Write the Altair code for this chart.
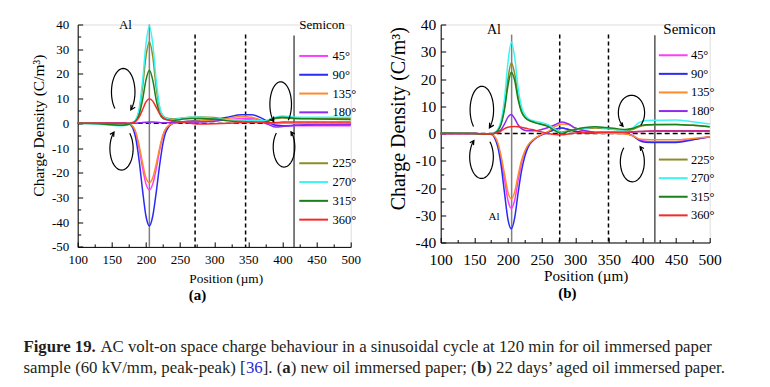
import altair as alt
import pandas as pd
import numpy as np

FONT = "Liberation Serif"

# ---------------- data ----------------
ANGLES_1 = ["45°", "90°", "135°", "180°"]
ANGLES_2 = ["225°", "270°", "315°", "360°"]
COLORS_1 = ["#ff3cff", "#2a2af5", "#ff8a2a", "#8f2bf0"]
COLORS_2 = ["#8c8c2a", "#3cf5f5", "#1a801a", "#f52a2a"]

# panel (a): new oil immersed paper
X_A = [100, 130, 150, 165, 175, 180, 185, 190, 195, 200, 205, 210, 215, 220, 225, 230,
       240, 250, 265, 280, 300, 320, 340, 355, 370, 380, 390, 400, 420, 450, 500]
A_45 = [0, 0, 0, 0, -0.3, -1, -4, -10, -18, -24.5, -27, -24.5, -18.5, -11, -5, -2,
        0, 0.3, 0.5, 0.8, 1, 1.5, 2, 2, 1, 0, -0.8, -1, -1, -1, -1]
A_90 = [0, 0, 0, 0, -0.3, -1.5, -6, -15, -27, -37.5, -41.5, -37.5, -28, -17, -8, -3,
        0, 0.5, 1, 1.2, 1.5, 2.5, 3.5, 3.5, 2, 0.5, -0.8, -1, -0.8, -0.5, -0.5]
A_135 = [0, 0, 0, 0, -0.3, -1, -3.5, -9, -16, -22, -24, -22, -16.5, -10, -4.5, -1.8,
         0, 0.5, 0.8, 1, 1.2, 2, 2.8, 2.5, 1.2, 0.3, 0, 0, 0, 0, 0]
A_180 = [0, 0, 0, 0, 0, 0, 0, 0.2, 0.3, 0.4, 0.5, 0.5, 0.4, 0.3, 0.2, 0.2,
         0.3, 0.5, 0.5, 0.5, 0.8, 1.5, 1.5, 1.3, 0.5, -0.5, -1.5, -1.3, -0.8, -0.6, -0.5]
A_225 = [0, 0, -0.5, -0.7, -0.3, 0.2, 1.2, 5, 14.5, 27, 33, 27, 14.5, 6, 3, 2.2,
         1.8, 2, 2.5, 2.6, 2.4, 1.5, 1, 0.8, 0.5, 1, 2, 2.2, 2, 2, 2]
A_270 = [0, -0.3, -0.8, -1, -0.5, 0.3, 1.5, 6, 17, 32, 39.5, 32, 17.5, 7, 3, 2,
         1.5, 2, 2.5, 2.5, 2, 1.5, 1.5, 1, 1, 1.5, 2.5, 3, 2.5, 2.5, 2.5]
A_315 = [0, -0.2, -0.6, -0.8, -0.4, 0.2, 1, 3.5, 9.5, 17.5, 21.5, 17.5, 9.5, 4, 2, 1.5,
         1.2, 1.5, 2, 2, 1.8, 1, 0.5, 0.3, 0.3, 1, 2.2, 2.5, 2, 1.8, 1.5]
A_360 = [0, 0, 0, 0, 0, 0.1, 0.8, 2.5, 5.5, 8.7, 10, 9, 6.5, 4, 2.3, 1.5,
         0.8, 0.5, 0, -0.3, -0.2, 0, 0.3, 0.5, 0.3, 0.2, 0.3, 0.5, 0.5, 0.5, 0.5]

# panel (b): 22 days' aged oil immersed paper
X_B = [100, 130, 150, 165, 175, 180, 185, 190, 195, 200, 205, 210, 215, 220, 225, 230,
       240, 250, 260, 270, 280, 290, 300, 315, 330, 345, 360, 375, 385, 395, 405, 420,
       450, 475, 500]
B_45 = [0, 0, 0, -0.2, -0.3, -1.2, -4, -9.5, -17, -24.5, -27.5, -24.5, -17.5, -11, -7, -4.5,
        -2, -0.5, 0.5, 1.5, 2, 1.5, 0.8, 0.3, 0.2, 0.2, 0.2, 0, -0.7, -2.2, -2.8, -3,
        -3, -2.2, -1.3]
B_90 = [0, 0, 0, -0.2, -0.3, -1.5, -5, -12, -22, -31.5, -35, -31, -22, -14, -8.5, -5,
        -2, -0.5, 0.5, 1.5, 2, 1.5, 0.8, 0.3, 0.2, 0.2, 0.2, 0, -0.8, -2.5, -3.2, -3.3,
        -3.3, -2.3, -1.2]
B_135 = [0, 0, 0, -0.2, -0.3, -1, -3.5, -8.5, -15, -21.5, -24, -21.5, -15.5, -10, -6.5, -4.2,
         -1.8, -0.3, 0.8, 2.5, 3.5, 3.3, 2, 0.8, 0.3, 0.1, 0, -0.2, -0.8, -2, -2.2, -2.3,
         -2.3, -1.8, -1.2]
B_180 = [0, 0, 0, -0.2, -0.2, 0.1, 0.5, 1.5, 3.5, 6, 7, 5.5, 3.2, 1.8, 1.2, 1,
         1, 1.5, 2.2, 3.2, 4.2, 3.5, 2, 1, 0.5, 0.5, 0.5, 0.5, 0.5, 0.7, 0.8, 1,
         1, 1, 1]
B_225 = [0.2, 0.1, 0, -0.3, -0.3, 0.2, 1.2, 4, 10, 20, 26, 22, 14, 8.5, 6, 5,
         4, 3.5, 3, 1.5, 0.5, 1, 1.5, 1.8, 2, 1.8, 1.5, 1.2, 1.5, 2.5, 3, 3.2,
         3.3, 3, 2.5]
B_270 = [0.2, 0.2, 0, -0.3, -0.3, 0.3, 1.5, 5, 13, 26, 33.5, 28, 17, 10, 7, 5.5,
         4.5, 4, 3.2, 1.5, 0.3, 0.8, 1.5, 2, 2.4, 2, 1.5, 1.3, 2, 4, 4.8, 4.9,
         5, 4.3, 3.5]
B_315 = [0.2, 0.1, 0, -0.3, -0.3, 0.2, 1, 3.5, 9, 17.5, 22.5, 19.5, 12.5, 8, 6, 5,
         4, 3.3, 2.5, 1, 0, 0.8, 1.5, 2.2, 2.5, 2.2, 1.8, 1.5, 1.8, 2.8, 3.2, 3.3,
         3.3, 3, 2.5]
B_360 = [0, 0, 0, -0.2, -0.2, 0, 0.3, 1, 1.8, 2.3, 2.5, 2.6, 2.5, 2.3, 2, 1.7,
         1.2, 0.6, 0, -0.4, -0.5, -0.2, 0.2, 0.3, 0.4, 0.5, 0.5, 0.5, 0.6, 0.7, 0.8, 0.8,
         0.8, 0.8, 0.8]

# reference lines (electrode / layer boundaries)
AL_A = 205
SEMICON_A = 417
DASHED_A = [272, 346]
AL_B = 205.5
SEMICON_B = 418.5
DASHED_B = [277, 349.5]

CAPTION_LINE_1 = [("Figure 19.", "b"),
                  (" AC volt-on space charge behaviour in a sinusoidal cycle at 120 min for oil immersed paper", "n")]
CAPTION_LINE_2 = [("sample (60 kV/mm, peak-peak) [", "n"), ("36", "c"), ("]. (", "n"), ("a", "b"),
                  (") new oil immersed paper; (", "n"), ("b", "b"),
                  (") 22 days’ aged oil immersed paper.", "n")]

# approximate Times / Liberation Serif advance widths (per 1000 em) for laying out caption runs
_W = {' ': 250, '(': 333, ')': 333, '[': 333, ']': 333, '.': 250, ',': 250, ';': 278, '/': 278,
      '-': 333, '’': 333, 'A': 722, 'C': 667, 'F': 556, 'V': 722,
      'a': 444, 'b': 500, 'c': 444, 'd': 500, 'e': 444, 'f': 333, 'g': 500, 'h': 500, 'i': 278,
      'k': 500, 'l': 278, 'm': 778, 'n': 500, 'o': 500, 'p': 500, 'r': 333, 's': 389, 't': 278,
      'u': 500, 'v': 500, 'w': 722, 'y': 500}
_WB = {'F': 611, 'a': 500, 'b': 556, 'u': 556, 'r': 444, 'g': 500, 'i': 278, 'e': 444}
CAP_FS = 16.8


def text_width(s, bold):
    tot = 0
    for ch in s:
        if ch.isdigit():
            tot += 500
        elif bold and ch in _WB:
            tot += _WB[ch]
        else:
            tot += _W.get(ch, 500)
    return tot / 1000 * CAP_FS


def layout_line(runs, x0, y):
    rows = []
    x = x0
    for txt, st in runs:
        lead = len(txt) - len(txt.lstrip(" "))
        rows.append({"t": txt.strip(" "), "px": x + text_width(" " * lead, False), "py": y, "s": st})
        x += text_width(txt, st == "b")
    return rows


def long_df(xs, series):
    rows = []
    for ang, vals in series.items():
        for x, v in zip(xs, vals):
            rows.append({"x": x, "v": v, "angle": ang})
    return pd.DataFrame(rows)


def arrow_path(rx, kind, t0=135.0, t1=410.0, n=48, head=0.22):
    ts = np.radians(np.linspace(t0, t1, n))
    xs = rx * np.cos(ts)
    ys = np.sin(ts)
    tip = np.array([xs[-1], ys[-1]])
    d = np.array([-rx * np.sin(ts[-1]), np.cos(ts[-1])])
    d = d / np.linalg.norm(d)
    heads = []
    for a in (np.radians(28), -np.radians(28)):
        c, s = np.cos(a), np.sin(a)
        back = -d
        r = np.array([c * back[0] - s * back[1], s * back[0] + c * back[1]])
        heads.append(tip + head * r)
    fx, fy = 1, 1
    if kind == "LL":
        fx, fy = -1, -1
    elif kind == "RU":
        fx, fy = -1, 1
    elif kind == "RL":
        fx, fy = 1, -1
    pts = " L".join(f"{fx*x:.3f},{fy*y:.3f}" for x, y in zip(xs, ys))
    h1, h2 = heads
    return (f"M{pts} M{fx*h1[0]:.3f},{fy*h1[1]:.3f} L{fx*tip[0]:.3f},{fy*tip[1]:.3f} "
            f"L{fx*h2[0]:.3f},{fy*h2[1]:.3f}")


def panel(p):
    xs = alt.Scale(domain=[100, 500], nice=False, zero=False)
    ys = alt.Scale(domain=p["ydom"], nice=False, zero=False)
    yvals = list(range(p["ydom"][0], p["ydom"][1] + 1, 10))
    yminor = list(range(p["ydom"][0] + 5, p["ydom"][1], 10))
    xvals = list(range(100, 501, 50))
    xminor = list(range(125, 500, 50))

    x_main = alt.Axis(orient="bottom", values=xvals, ticks=False, labelPadding=p["xlabpad"],
                      labelFlush=False,
                      labelFont=FONT, labelFontSize=p["tickfs"], labelColor="black",
                      labelExpr="datum.value + ''",
                      domainColor="black", domainWidth=1, grid=False,
                      title="Position (µm)", titleFont=FONT, titleFontSize=p["xtitlefs"],
                      titleFontWeight="normal", titleColor="black",
                      titleX=p["xtitlex"], titleY=p["xtitley"], titleBaseline="middle",
                      titleAlign="center")
    y_main = alt.Axis(orient="left", values=yvals, ticks=False, labelPadding=p["ylabpad"],
                      labelFont=FONT, labelFontSize=p["tickfs"], labelColor="black",
                      labelExpr="datum.value + ''",
                      domainColor="black", domainWidth=1, grid=False,
                      title="Charge Density (C/m³)", titleFont=FONT, titleFontSize=p["ytitlefs"],
                      titleFontWeight="normal", titleColor="black",
                      titleX=p["ytitlex"], titleY=p["ytitley"], titleBaseline="middle",
                      titleAlign="center", titleAngle=270)

    def tick_axis(orient, vals, size):
        return alt.Axis(orient=orient, values=vals, offset=-size, tickSize=size, ticks=True,
                        tickColor="black", tickWidth=1, domain=False, labels=False,
                        title=None, grid=False)

    df = long_df(p["x"], p["series"])
    g1 = df[df["angle"].isin(ANGLES_1)]
    g2 = df[df["angle"].isin(ANGLES_2)]

    def legend(ly):
        return alt.Legend(title=None, orient="none", legendX=p["legx"], legendY=ly,
                          symbolType="M -3.2 0 L 3.2 0", symbolSize=81, symbolStrokeWidth=2,
                          labelFont=FONT, labelFontSize=12.5, labelColor="black",
                          labelOffset=p["laboff"], rowPadding=p["rowpad"], padding=0,
                          direction="vertical", labelLimit=0)

    lines1 = alt.Chart(g1).mark_line(strokeWidth=1.5, interpolate="monotone").encode(
        x=alt.X("x:Q", scale=xs, axis=x_main),
        y=alt.Y("v:Q", scale=ys, axis=y_main),
        color=alt.Color("angle:N", scale=alt.Scale(domain=ANGLES_1, range=COLORS_1),
                        sort=ANGLES_1, legend=legend(p["leg1y"])),
        detail="angle:N",
    )
    lines2 = alt.Chart(g2).mark_line(strokeWidth=1.5, interpolate="monotone").encode(
        x=alt.X("x:Q", scale=xs, axis=None),
        y=alt.Y("v:Q", scale=ys, axis=None),
        color=alt.Color("angle:N", scale=alt.Scale(domain=ANGLES_2, range=COLORS_2),
                        sort=ANGLES_2, legend=legend(p["leg2y"])),
        detail="angle:N",
    )

    zero = alt.Chart(pd.DataFrame({"z": [0]})).mark_rule(
        color="black", strokeWidth=1.4, strokeDash=[5, 3]).encode(
        y=alt.Y("z:Q", scale=ys, axis=None))

    al = alt.Chart(pd.DataFrame({"x": [p["al"]], "top": [p["altop"]], "bot": [p["ydom"][0]]})).mark_rule(
        color="#808080", strokeWidth=1.5).encode(
        x=alt.X("x:Q", scale=xs, axis=tick_axis("bottom", xvals, 5)),
        y=alt.Y("top:Q", scale=ys, axis=tick_axis("left", yvals, 5)),
        y2="bot:Q")
    semi = alt.Chart(pd.DataFrame({"x": [p["semi"]], "top": [p["semitop"]], "bot": [p["ydom"][0]]})).mark_rule(
        color="#3a3a3a", strokeWidth=1.3).encode(
        x=alt.X("x:Q", scale=xs, axis=None),
        y=alt.Y("top:Q", scale=ys, axis=None),
        y2="bot:Q")
    dashed = alt.Chart(pd.DataFrame({"x": p["dashed"], "top": [p["dashtop"]] * 2,
                                     "bot": [p["ydom"][0]] * 2})).mark_rule(
        color="black", strokeWidth=1.5, strokeDash=[4, 3]).encode(
        x=alt.X("x:Q", scale=xs, axis=tick_axis("bottom", xminor, 3)),
        y=alt.Y("top:Q", scale=ys, axis=tick_axis("left", yminor, 3)),
        y2="bot:Q")

    notes = alt.Chart(pd.DataFrame(p["notes"])).mark_text(
        font=FONT, color="black", align="center", baseline="middle").encode(
        x=alt.X("x:Q", scale=xs, axis=None),
        y=alt.Y("y:Q", scale=ys, axis=None),
        text="t:N",
        size=alt.Size("fs:Q", scale=None, legend=None))

    arr = pd.DataFrame(p["arrows"])
    arr["shape"] = [arrow_path(rx, k) for rx, k in zip(arr["rx"], arr["kind"])]
    arr["sz"] = arr["h"] ** 2
    arrows = alt.Chart(arr).mark_point(filled=False, color="black", strokeWidth=1.2,
                                       opacity=1).encode(
        x=alt.X("x:Q", scale=xs, axis=None),
        y=alt.Y("y:Q", scale=ys, axis=None),
        shape=alt.Shape("shape:N", scale=None, legend=None),
        size=alt.Size("sz:Q", scale=None, legend=None))

    label = alt.Chart(pd.DataFrame({"t": [p["label"]], "px": [p["labx"]], "py": [p["laby"]]})).mark_text(
        font=FONT, fontSize=15, fontWeight="bold", color="black", align="center",
        baseline="middle").encode(
        x=alt.X("px:Q", scale=None, axis=None), y=alt.Y("py:Q", scale=None, axis=None), text="t:N")

    layers = [zero, al, semi, dashed, lines1, lines2, notes, arrows, label]

    if p.get("caption") is not None:
        cap = pd.DataFrame(p["caption"])
        for style, extra in (("n", {}), ("b", {"fontWeight": "bold"}), ("c", {"color": "#2a2ad8"})):
            sub = cap[cap["s"] == style]
            kw = dict(font=FONT, fontSize=CAP_FS, align="left", baseline="alphabetic", color="#231f20")
            kw.update(extra)
            layers.append(alt.Chart(sub).mark_text(**kw).encode(
                x=alt.X("px:Q", scale=None, axis=None),
                y=alt.Y("py:Q", scale=None, axis=None),
                text="t:N"))

    return alt.layer(*layers).resolve_scale(color="independent").resolve_axis(
        x="independent", y="independent").resolve_legend(color="independent").properties(
        width=p["w"], height=p["h"])


caption_rows = layout_line(CAPTION_LINE_1, -54.3, 327.4) + layout_line(CAPTION_LINE_2, -54.3, 349.0)

pa = dict(
    x=X_A,
    series={"45°": A_45, "90°": A_90, "135°": A_135, "180°": A_180,
            "225°": A_225, "270°": A_270, "315°": A_315, "360°": A_360},
    ydom=[-50, 40], w=273, h=222.4,
    tickfs=13, xtitlefs=13.3, ytitlefs=15.5, xlabpad=7, ylabpad=9,
    xtitlex=148, xtitley=31.6, ytitlex=-39, ytitley=100.7,
    legx=229.7, leg1y=25.2, leg2y=132.5, laboff=12.6, rowpad=5.8,
    al=AL_A, altop=40, semi=SEMICON_A, semitop=35.6, dashed=DASHED_A, dashtop=36,
    notes={"t": ["Al", "Semicon"], "x": [170, 458], "y": [39.7, 39.7], "fs": [13, 13]},
    arrows={"x": [166.7, 164.2, 397.4, 402.3], "y": [12.7, -10.2, 7.7, -9.6],
            "h": [47, 43, 45, 40], "rx": [0.5, 0.54, 0.48, 0.54],
            "kind": ["LU", "LL", "RU", "RL"]},
    label="(a)", labx=119.7, laby=270.7,
    caption=caption_rows,
)
pb = dict(
    x=X_B,
    series={"45°": B_45, "90°": B_90, "135°": B_135, "180°": B_180,
            "225°": B_225, "270°": B_270, "315°": B_315, "360°": B_360},
    ydom=[-40, 40], w=269, h=218,
    tickfs=15.5, xtitlefs=15.2, ytitlefs=20, xlabpad=10, ylabpad=5,
    xtitlex=145, xtitley=32.7, ytitlex=-42.3, ytitley=93.7,
    legx=226.3, leg1y=24.5, leg2y=128.8, laboff=11.4, rowpad=5.6,
    al=AL_B, altop=36.3, semi=SEMICON_B, semitop=36.1, dashed=DASHED_B, dashtop=36.3,
    notes={"t": ["Al", "Al", "Semicon"], "x": [179.3, 179.3, 470], "y": [37.9, -30.6, 38.2],
           "fs": [14, 11, 15]},
    arrows={"x": [161.2, 160.7, 383.7, 385], "y": [8.7, -8.6, 7.6, -10.4],
            "h": [47, 43, 35, 40], "rx": [0.5, 0.55, 0.75, 0.6],
            "kind": ["LU", "LL", "RU", "RL"]},
    label="(b)", labx=126.7, laby=269,
)

chart = alt.hconcat(panel(pa), panel(pb), spacing=90, bounds="flush").resolve_scale(
    color="independent").resolve_legend(color="independent").properties(
    padding={"left": 14.7, "top": 8.5, "right": 0, "bottom": 0}
).configure_view(stroke=None).configure(font=FONT).configure_axis(
    labelFont=FONT, titleFont=FONT).configure_legend(labelFont=FONT).configure_text(font=FONT)

chart.save("out.html", embed_options={"renderer": "svg", "actions": False})
